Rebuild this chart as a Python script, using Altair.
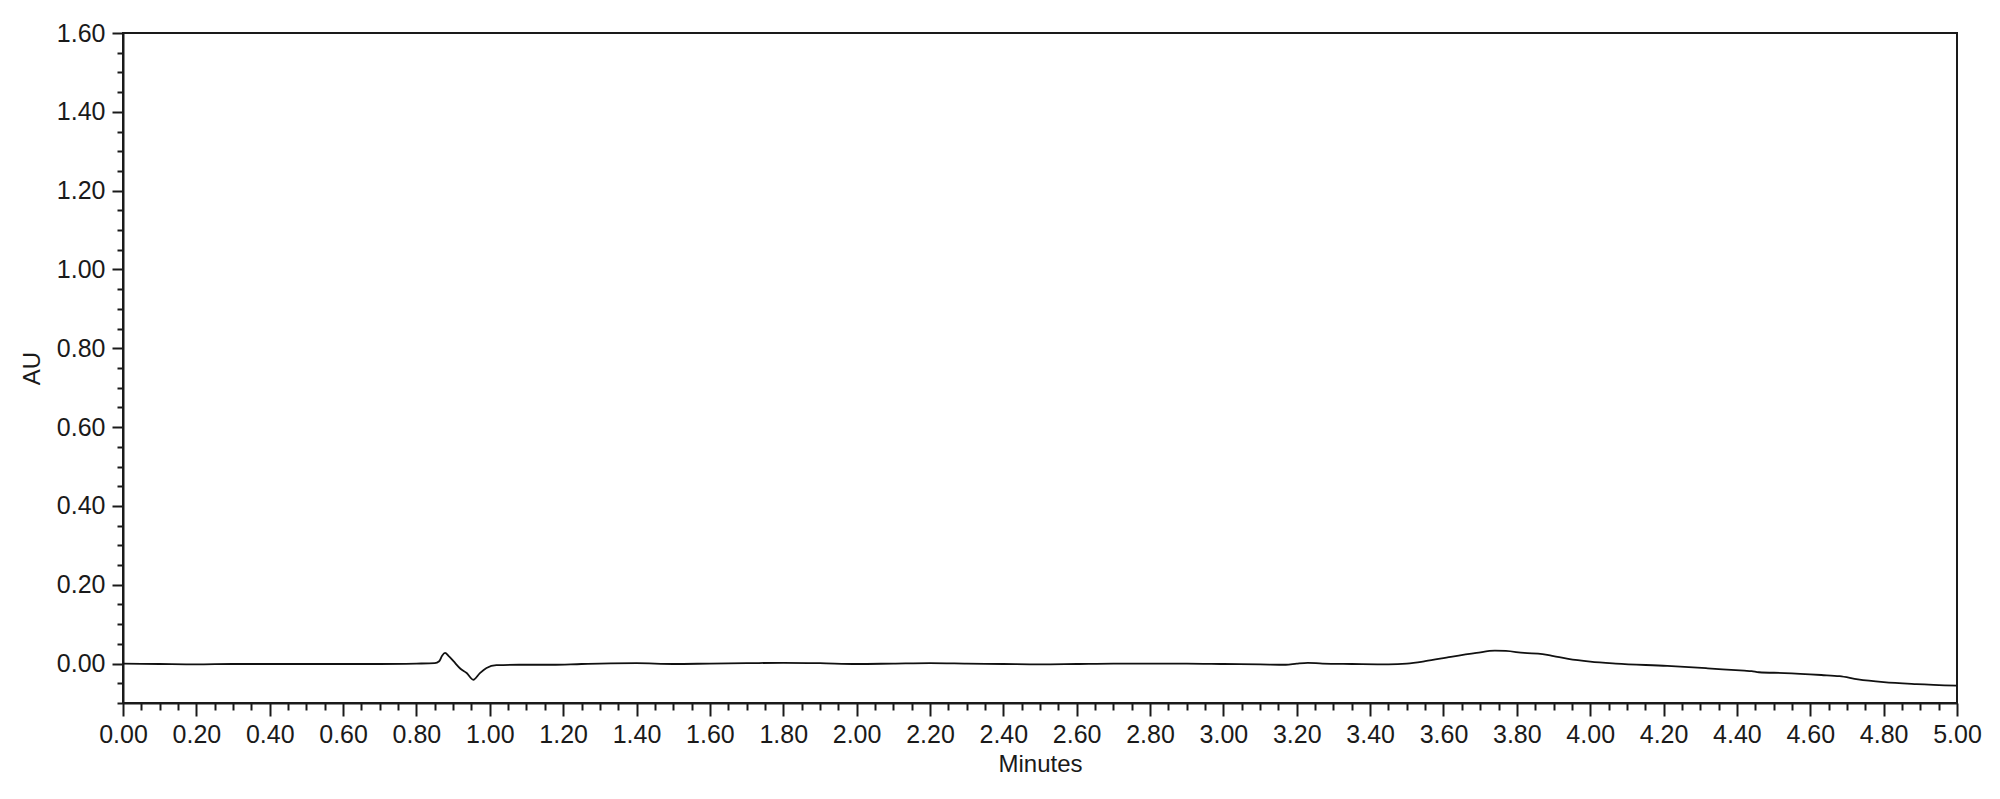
import altair as alt
import pandas as pd

minutes = [0.00, 0.10, 0.20, 0.30, 0.40, 0.50, 0.60, 0.70, 0.80, 0.85, 0.862, 0.870, 0.878,
           0.888, 0.901, 0.920, 0.937, 0.955, 0.973, 0.991, 1.018, 1.08, 1.17, 1.25, 1.30,
           1.40, 1.50, 1.60, 1.70, 1.80, 1.90, 2.00, 2.10, 2.20, 2.30, 2.40, 2.50, 2.60,
           2.70, 2.80, 2.90, 3.00, 3.10, 3.17, 3.20, 3.23, 3.27, 3.35, 3.45, 3.50, 3.55,
           3.62, 3.69, 3.74, 3.77, 3.82, 3.87, 3.90, 3.94, 4.00, 4.07, 4.21, 4.32, 4.42,
           4.44, 4.46, 4.53, 4.63, 4.68, 4.73, 4.80, 4.89, 5.00]
au = [0.000, -0.001, -0.002, -0.001, -0.001, -0.001, -0.001, -0.001, 0.000, 0.001, 0.006,
      0.020, 0.027, 0.019, 0.006, -0.013, -0.024, -0.041, -0.024, -0.011, -0.004, -0.003,
      -0.003, -0.001, 0.000, 0.001, -0.001, 0.000, 0.001, 0.002, 0.001, -0.001, 0.000,
      0.001, 0.000, -0.001, -0.002, -0.001, 0.000, 0.000, 0.000, -0.001, -0.002, -0.003,
      0.000, 0.002, 0.000, -0.001, -0.002, 0.000, 0.006, 0.017, 0.027, 0.033, 0.032,
      0.027, 0.024, 0.019, 0.012, 0.005, 0.000, -0.006, -0.012, -0.018, -0.019, -0.022,
      -0.024, -0.029, -0.032, -0.040, -0.047, -0.052, -0.056]

x_ticks = [round(i * 0.05, 2) for i in range(0, 101)]
y_ticks = [round(-0.10 + i * 0.05, 2) for i in range(0, 35)]

df = pd.DataFrame({"Minutes": minutes, "AU": au})

FONT = "Liberation Sans"
INK = "#1a1a1a"
major_test = "abs(datum.value*5 - round(datum.value*5)) < 0.0001"

x_axis = alt.Axis(
    title="Minutes", values=x_ticks, format=".2f", grid=False,
    labelExpr=f"({major_test}) ? datum.label : ''",
    labelOverlap=False, labelFlush=False,
    tickSize={"condition": {"test": major_test, "value": 13}, "value": 7},
    tickWidth=2, tickColor=INK, domainColor=INK, domainWidth=2,
    labelFont=FONT, labelFontSize=25, labelColor=INK, labelPadding=6,
    titleFont=FONT, titleFontSize=24, titleFontWeight="normal", titleColor=INK,
    titlePadding=5,
)
y_axis = alt.Axis(
    title="AU", values=y_ticks, format=".2f", grid=False,
    labelExpr=f"({major_test}) ? datum.label : ''",
    labelOverlap=False, labelFlush=False,
    tickSize={"condition": {"test": major_test, "value": 11}, "value": 6},
    tickWidth=2, tickColor=INK, domainColor=INK, domainWidth=2,
    labelFont=FONT, labelFontSize=25, labelColor=INK, labelPadding=7,
    titleFont=FONT, titleFontSize=24, titleFontWeight="normal", titleColor=INK,
    titlePadding=12,
)

chart = alt.Chart(df).mark_line(color="#111111", strokeWidth=1.8, interpolate="monotone").encode(
    x=alt.X("Minutes:Q", scale=alt.Scale(domain=[0, 5], nice=False, zero=False), axis=x_axis),
    y=alt.Y("AU:Q", scale=alt.Scale(domain=[-0.1, 1.6], nice=False, zero=False), axis=y_axis),
).properties(
    width=1834, height=670,
    autosize=alt.AutoSizeParams(type="none"),
    padding={"left": 115, "top": 25, "right": 35, "bottom": 80},
).configure_view(stroke=INK, strokeWidth=2)

chart.save("out.html", embed_options={"renderer": "svg", "actions": False})
